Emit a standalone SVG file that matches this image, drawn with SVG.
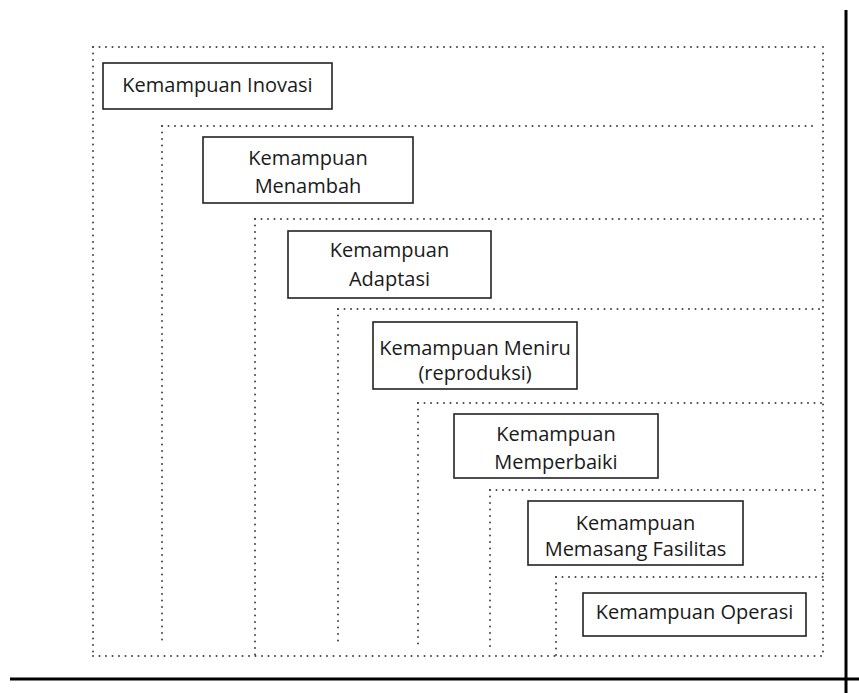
<svg xmlns="http://www.w3.org/2000/svg" width="859" height="693" viewBox="0 0 859 693">
  <style>
    .dot { stroke: #444; stroke-width: 2; stroke-dasharray: 0 6.5; stroke-linecap: round; fill: none; }
    .box { fill: #fff; stroke: #222; stroke-width: 1.6; }
    .axis { stroke: #000; stroke-width: 3; }
    text { font-family: "Open Sans", "Noto Sans", "Liberation Sans", sans-serif; font-size: 20px; fill: #1a1a1a; text-anchor: middle; }
  </style>
  <rect width="859" height="693" fill="#fff"/>

  <!-- axes -->
  <g id="axes">
    <line class="axis" x1="10" y1="679" x2="859" y2="679"/>
    <line class="axis" x1="846" y1="10" x2="846" y2="693"/>
  </g>

  <!-- nested dotted frames -->
  <g id="frames">
    <line class="dot" x1="823" y1="47" x2="823" y2="656"/>
    <line class="dot" x1="93" y1="656" x2="823" y2="656"/>

    <line class="dot" x1="93" y1="47" x2="816" y2="47"/>
    <line class="dot" x1="93" y1="47" x2="93" y2="656"/>

    <line class="dot" x1="162" y1="126" x2="816" y2="126"/>
    <line class="dot" x1="162" y1="126" x2="162" y2="645"/>

    <line class="dot" x1="255" y1="219" x2="823" y2="219"/>
    <line class="dot" x1="255" y1="219" x2="255" y2="656"/>

    <line class="dot" x1="338" y1="309" x2="823" y2="309"/>
    <line class="dot" x1="338" y1="309" x2="338" y2="647"/>

    <line class="dot" x1="418" y1="403" x2="823" y2="403"/>
    <line class="dot" x1="418" y1="403" x2="418" y2="650"/>

    <line class="dot" x1="490" y1="490" x2="816" y2="490"/>
    <line class="dot" x1="490" y1="490" x2="490" y2="650"/>

    <line class="dot" x1="556" y1="577" x2="823" y2="577"/>
    <line class="dot" x1="556" y1="577" x2="556" y2="656"/>
  </g>

  <g id="inovasi">
    <rect class="box" x="103" y="63" width="229" height="46"/>
    <text x="217.5" y="92">Kemampuan Inovasi</text>
  </g>

  <g id="menambah">
    <rect class="box" x="203" y="137" width="210" height="66"/>
    <text x="308" y="165">Kemampuan</text>
    <text x="308" y="193">Menambah</text>
  </g>

  <g id="adaptasi">
    <rect class="box" x="288" y="231" width="203" height="67"/>
    <text x="389.5" y="257">Kemampuan</text>
    <text x="389.5" y="286">Adaptasi</text>
  </g>

  <g id="meniru">
    <rect class="box" x="373" y="322" width="204" height="67"/>
    <text x="475" y="355">Kemampuan Meniru</text>
    <text x="475" y="380">(reproduksi)</text>
  </g>

  <g id="memperbaiki">
    <rect class="box" x="454" y="414" width="204" height="64"/>
    <text x="556" y="441">Kemampuan</text>
    <text x="556" y="469">Memperbaiki</text>
  </g>

  <g id="memasang">
    <rect class="box" x="528" y="501" width="215" height="64"/>
    <text x="635.5" y="530">Kemampuan</text>
    <text x="635.5" y="556">Memasang Fasilitas</text>
  </g>

  <g id="operasi">
    <rect class="box" x="583" y="593" width="223" height="43"/>
    <text x="694.5" y="619">Kemampuan Operasi</text>
  </g>
</svg>
